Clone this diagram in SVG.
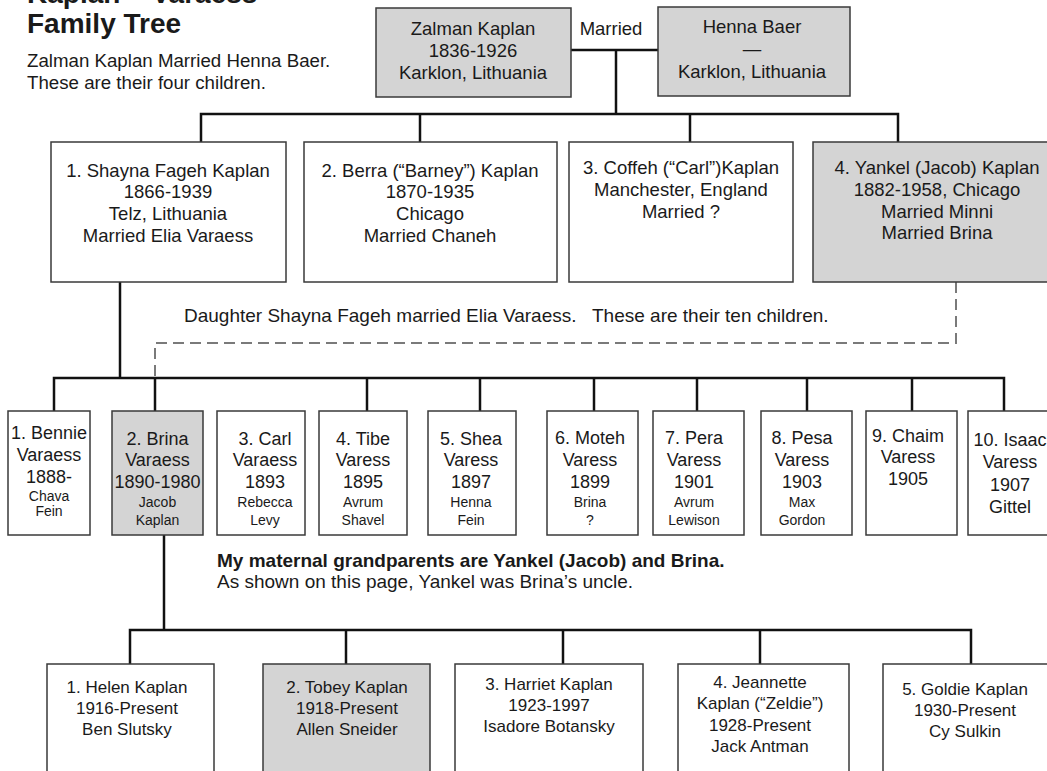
<svg xmlns="http://www.w3.org/2000/svg" width="1047" height="771" viewBox="0 0 1047 771">
<style>
text{font-family:"Liberation Sans",Arial,sans-serif;fill:#1a1a1a}
.t{font-size:18.5px;text-anchor:middle}
.c{font-size:18px;text-anchor:middle}
.s{font-size:14px;text-anchor:middle}
.b{font-size:17px;text-anchor:middle}
.n{font-size:18.7px}
.m{font-size:19px}
.box{fill:#fff;stroke:#3a3a3a;stroke-width:1.5}
.g{fill:#d4d4d4}
.ln{fill:none;stroke:#111;stroke-width:2.5}
.dash{fill:none;stroke:#7a7a7a;stroke-width:2;stroke-dasharray:11 6}
</style>
<rect width="1047" height="771" fill="#fff"/>
<g id="title">
<text x="27" y="3" font-size="28" font-weight="bold">Kaplan – Varaess</text>
<text x="27" y="33" font-size="28" font-weight="bold">Family Tree</text>
<text class="n" x="27" y="67">Zalman Kaplan Married Henna Baer.</text>
<text class="n" x="27" y="89">These are their four children.</text>
</g>
<g id="connectors">
<line class="ln" x1="571" y1="50" x2="658" y2="50"/>
<line class="ln" x1="616" y1="50" x2="616" y2="114"/>
<polyline class="ln" points="201,142 201,114 898,114 898,142"/>
<line class="ln" x1="420" y1="114" x2="420" y2="142"/>
<line class="ln" x1="690" y1="114" x2="690" y2="142"/>
<line class="ln" x1="120" y1="282" x2="120" y2="378"/>
<polyline class="dash" points="956,282 956,343 155,343 155,378"/>
<polyline class="ln" points="54,411 54,378 1004,378 1004,411"/>
<line class="ln" x1="155" y1="378" x2="155" y2="411"/>
<line class="ln" x1="367" y1="378" x2="367" y2="411"/>
<line class="ln" x1="480" y1="378" x2="480" y2="411"/>
<line class="ln" x1="594" y1="378" x2="594" y2="411"/>
<line class="ln" x1="697" y1="378" x2="697" y2="411"/>
<line class="ln" x1="807" y1="378" x2="807" y2="411"/>
<line class="ln" x1="912" y1="378" x2="912" y2="411"/>
<line class="ln" x1="164" y1="535" x2="164" y2="630"/>
<polyline class="ln" points="130,664 130,630 971,630 971,664"/>
<line class="ln" x1="346" y1="630" x2="346" y2="664"/>
<line class="ln" x1="563" y1="630" x2="563" y2="664"/>
<line class="ln" x1="760" y1="630" x2="760" y2="664"/>
</g>
<g id="married-label"><text class="t" x="611" y="35">Married</text></g>
<g id="zalman">
<rect class="box g" x="376" y="8" width="195" height="89"/>
<text class="t" x="473" y="35">Zalman Kaplan</text>
<text class="t" x="473" y="57">1836-1926</text>
<text class="t" x="473" y="79">Karklon, Lithuania</text>
</g>
<g id="henna">
<rect class="box g" x="658" y="7" width="192" height="89"/>
<text class="t" x="752" y="33">Henna Baer</text>
<text class="t" x="752" y="55">—</text>
<text class="t" x="752" y="78">Karklon, Lithuania</text>
</g>
<g id="shayna">
<rect class="box" x="51" y="142" width="235" height="140"/>
<text class="t" x="168" y="177">1. Shayna Fageh Kaplan</text>
<text class="t" x="168" y="198">1866-1939</text>
<text class="t" x="168" y="220">Telz, Lithuania</text>
<text class="t" x="168" y="242">Married Elia Varaess</text>
</g>
<g id="berra">
<rect class="box" x="304" y="142" width="253" height="140"/>
<text class="t" x="430" y="177">2. Berra (“Barney”) Kaplan</text>
<text class="t" x="430" y="198">1870-1935</text>
<text class="t" x="430" y="220">Chicago</text>
<text class="t" x="430" y="242">Married Chaneh</text>
</g>
<g id="coffeh">
<rect class="box" x="569" y="142" width="224" height="140"/>
<text class="t" x="681" y="174">3. Coffeh (“Carl”)Kaplan</text>
<text class="t" x="681" y="196">Manchester, England</text>
<text class="t" x="681" y="218">Married ?</text>
</g>
<g id="yankel">
<rect class="box g" x="813" y="142" width="250" height="140"/>
<text class="t" x="937" y="174">4. Yankel (Jacob) Kaplan</text>
<text class="t" x="937" y="196">1882-1958, Chicago</text>
<text class="t" x="937" y="218">Married Minni</text>
<text class="t" x="937" y="239">Married Brina</text>
</g>
<g id="note1"><text class="m" x="184" y="322" xml:space="preserve">Daughter Shayna Fageh married Elia Varaess.   These are their ten children.</text></g>
<g id="bennie">
<rect class="box" x="8" y="411" width="82" height="124"/>
<text class="c" x="49" y="439">1. Bennie</text>
<text class="c" x="49" y="461">Varaess</text>
<text class="c" x="49" y="483">1888-</text>
<text class="s" x="49" y="501">Chava</text>
<text class="s" x="49" y="516">Fein</text>
</g>
<g id="brina">
<rect class="box g" x="112" y="411" width="91" height="124"/>
<text class="c" x="157.5" y="445">2. Brina</text>
<text class="c" x="157.5" y="466">Varaess</text>
<text class="c" x="157.5" y="488">1890-1980</text>
<text class="s" x="157.5" y="507">Jacob</text>
<text class="s" x="157.5" y="525">Kaplan</text>
</g>
<g id="carl">
<rect class="box" x="217" y="411" width="88" height="124"/>
<text class="c" x="265" y="445">3. Carl</text>
<text class="c" x="265" y="466">Varaess</text>
<text class="c" x="265" y="488">1893</text>
<text class="s" x="265" y="507">Rebecca</text>
<text class="s" x="265" y="525">Levy</text>
</g>
<g id="tibe">
<rect class="box" x="319" y="411" width="88" height="124"/>
<text class="c" x="363" y="445">4. Tibe</text>
<text class="c" x="363" y="466">Varess</text>
<text class="c" x="363" y="488">1895</text>
<text class="s" x="363" y="507">Avrum</text>
<text class="s" x="363" y="525">Shavel</text>
</g>
<g id="shea">
<rect class="box" x="428" y="411" width="88" height="124"/>
<text class="c" x="471" y="445">5. Shea</text>
<text class="c" x="471" y="466">Varess</text>
<text class="c" x="471" y="488">1897</text>
<text class="s" x="471" y="507">Henna</text>
<text class="s" x="471" y="525">Fein</text>
</g>
<g id="moteh">
<rect class="box" x="547" y="411" width="91" height="124"/>
<text class="c" x="590" y="444">6. Moteh</text>
<text class="c" x="590" y="466">Varess</text>
<text class="c" x="590" y="488">1899</text>
<text class="s" x="590" y="507">Brina</text>
<text class="s" x="590" y="525">?</text>
</g>
<g id="pera">
<rect class="box" x="653" y="411" width="91" height="124"/>
<text class="c" x="694" y="444">7. Pera</text>
<text class="c" x="694" y="466">Varess</text>
<text class="c" x="694" y="488">1901</text>
<text class="s" x="694" y="507">Avrum</text>
<text class="s" x="694" y="525">Lewison</text>
</g>
<g id="pesa">
<rect class="box" x="761" y="411" width="91" height="124"/>
<text class="c" x="802" y="444">8. Pesa</text>
<text class="c" x="802" y="466">Varess</text>
<text class="c" x="802" y="488">1903</text>
<text class="s" x="802" y="507">Max</text>
<text class="s" x="802" y="525">Gordon</text>
</g>
<g id="chaim">
<rect class="box" x="866" y="411" width="91" height="124"/>
<text class="c" x="908" y="442">9. Chaim</text>
<text class="c" x="908" y="463">Varess</text>
<text class="c" x="908" y="485">1905</text>
</g>
<g id="isaac">
<rect class="box" x="968" y="411" width="100" height="124"/>
<text class="c" x="1010" y="446">10. Isaac</text>
<text class="c" x="1010" y="468">Varess</text>
<text class="c" x="1010" y="491">1907</text>
<text class="c" x="1010" y="513">Gittel</text>
</g>
<g id="note2">
<text class="m" x="217" y="567" font-weight="bold">My maternal grandparents are Yankel (Jacob) and Brina.</text>
<text class="m" x="217" y="588">As shown on this page, Yankel was Brina’s uncle.</text>
</g>
<g id="helen">
<rect class="box" x="47" y="664" width="167" height="130"/>
<text class="b" x="127" y="693">1. Helen Kaplan</text>
<text class="b" x="127" y="714">1916-Present</text>
<text class="b" x="127" y="735">Ben Slutsky</text>
</g>
<g id="tobey">
<rect class="box g" x="263" y="664" width="167" height="130"/>
<text class="b" x="347" y="693">2. Tobey Kaplan</text>
<text class="b" x="347" y="714">1918-Present</text>
<text class="b" x="347" y="735">Allen Sneider</text>
</g>
<g id="harriet">
<rect class="box" x="455" y="664" width="188" height="130"/>
<text class="b" x="549" y="690">3. Harriet Kaplan</text>
<text class="b" x="549" y="711">1923-1997</text>
<text class="b" x="549" y="732">Isadore Botansky</text>
</g>
<g id="jeannette">
<rect class="box" x="678" y="664" width="171" height="130"/>
<text class="b" x="760" y="688">4. Jeannette</text>
<text class="b" x="760" y="709">Kaplan (“Zeldie”)</text>
<text class="b" x="760" y="731">1928-Present</text>
<text class="b" x="760" y="752">Jack Antman</text>
</g>
<g id="goldie">
<rect class="box" x="883" y="664" width="180" height="130"/>
<text class="b" x="965" y="695">5. Goldie Kaplan</text>
<text class="b" x="965" y="716">1930-Present</text>
<text class="b" x="965" y="737">Cy Sulkin</text>
</g>
</svg>
